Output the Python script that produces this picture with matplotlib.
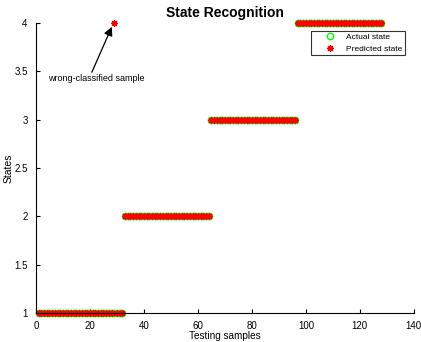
import numpy as np
import matplotlib.pyplot as plt

plt.rcParams["font.family"] = ["Liberation Sans", "DejaVu Sans"]

# 128 test samples, 32 per state
samples = np.arange(1, 129)
actual_state = np.repeat([1, 2, 3, 4], 32)
predicted_state = actual_state.copy()
wrong_idx = 28            # sample 29 predicted as state 4
predicted_state[wrong_idx] = 4

xticks = [0, 20, 40, 60, 80, 100, 120, 140]
yticks = [1, 1.5, 2, 2.5, 3, 3.5, 4]

fig = plt.figure(figsize=(4.21, 3.42), dpi=100)
ax = fig.add_axes([0.0855, 0.085, 0.8975, 0.848])

ax.plot(
    samples,
    actual_state,
    linestyle="none",
    marker="o",
    markersize=4.6,
    markerfacecolor="none",
    markeredgecolor=(0, 1, 0),
    markeredgewidth=1.0,
    label="Actual state",
    clip_on=False
)

# asterisk marker: 8 spokes
ax.plot(
    samples,
    predicted_state,
    linestyle="none",
    marker=(8, 2, 0),
    markersize=4.8,
    color="red",
    markeredgewidth=0.9,
    label="Predicted state",
    clip_on=False
)

# arrow pointing at the misclassified sample
ax.annotate(
    "",
    xy=(samples[wrong_idx] - 0.9, predicted_state[wrong_idx] - 0.04),
    xytext=(20.7, 3.49),
    arrowprops=dict(
        arrowstyle="-|>",
        color="black",
        lw=0.9,
        mutation_scale=13,
        shrinkA=0,
        shrinkB=0
    )
)

ax.text(
    4.5,
    3.43,
    "wrong-classified sample",
    fontsize=6.5,
    ha="left",
    va="center"
)

ax.set_xlim(0, 140)
ax.set_ylim(1, 4)
ax.set_xticks(xticks)
ax.set_yticks(yticks)
ax.set_yticklabels(["1", "1.5", "2", "2.5", "3", "3.5", "4"])
ax.tick_params(direction="in", labelsize=7, length=3, width=0.8)
ax.tick_params(axis="x", pad=5.5)
ax.tick_params(axis="y", pad=6)

ax.spines["top"].set_visible(False)
ax.spines["right"].set_visible(False)

ax.set_xlabel("Testing samples", fontsize=7.2, labelpad=0)
ax.set_ylabel("States", fontsize=7.5, labelpad=0.5)
ax.set_title("State Recognition", fontsize=10, fontweight="bold", pad=4)

leg = ax.legend(
    loc="upper right",
    bbox_to_anchor=(0.976, 0.972),
    borderaxespad=0,
    fontsize=6.0,
    frameon=True,
    fancybox=False,
    edgecolor="black",
    handletextpad=0.05,
    borderpad=0.25,
    labelspacing=0.5,
    handlelength=3.9
)
leg.get_frame().set_linewidth(0.8)

fig.savefig("out.png", dpi=100)
